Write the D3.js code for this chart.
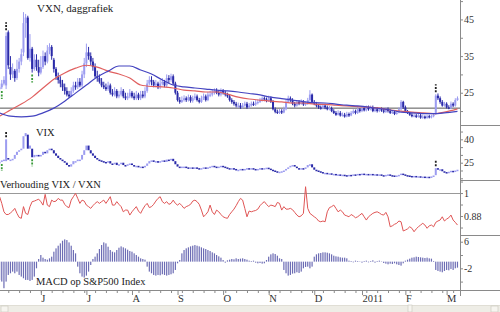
<!DOCTYPE html>
<html><head><meta charset="utf-8">
<script src="https://cdn.jsdelivr.net/npm/d3@7/dist/d3.min.js"></script>
<style>html,body{margin:0;padding:0;background:#fff}svg{display:block}</style>
</head><body>
<svg id="c" width="500" height="312"></svg>
<script>
// ---------- DATA (trading-day index 0..211) ----------
const vxnOpen=[26,26.5,27.5,27,41.5,32,30,31,29,31.5,
33.5,36,44,45.5,34.5,37,31.5,34,32,30.5,
32,35,33.5,36.5,37.5,34,31.5,29.5,28.5,27.5,
26.5,25.5,24.5,24,25.5,27,26.5,28,27,30,
33,36,35,33.5,32,29.5,29,28,27,26.5,
26,27,25,24.5,25.5,24,24.5,25.5,24,23.5,
24,25,24,23.5,24.5,23.5,24.5,24,25.5,27.5,
28.5,28,27,27.5,26.5,27.5,28,27,29,28.5,
29.5,27.5,25,23,22.5,23,23.5,23,23.8,22.8,
23.5,24,23,22.5,23.5,24,23,24.5,24.5,25,
25.5,25,24.5,25.5,25,24.5,24,23,22.5,22,
21.5,21.5,21,21.5,22,21,21.5,22,21.8,22.3,
22.5,23,23.5,23.2,22.8,23.5,22.5,20.5,19.8,19.5,
20,19.6,20.5,22.5,23.5,23,22,21.5,22.5,22,
22.5,21.8,22,23,24.5,22.5,22,21.5,21,20.8,
21.5,21,20.5,20.8,20,19.5,19,19.5,18.8,19,
18.5,19.2,18.8,19.5,20,19.5,20.5,20,20.8,20.2,
21,20.5,21,20,20.5,20,20.5,20.2,19.8,20.5,
20,19.5,19.8,19.2,19.6,20.5,22.5,21,20,19.5,
19,18.6,18.8,18.4,18.8,18.2,18.5,18.1,18.6,18.3,
18.6,19.2,24.2,23.5,22.5,21.5,22,21,20.8,22,21.5,23];
const vxnHigh=[27.5,28.5,29.5,41.5,42,35,33,31.5,34,34.5,
37,47,46.5,46,41,37.5,35.5,35.5,34,35,
36.5,36,38,38.5,38,34.5,32,30.5,29.5,28.5,
27.5,26.5,25.5,26.5,28,28,29,29,31,34.5,
38.4,37.5,36,34.5,33,31,30,29,28,27.5,
28,27.5,26,26.5,26,25.5,26.5,26,25,25,
26,25.5,25,25.5,25,25.5,25.5,26.5,28.5,29.5,
29.5,28.5,28.5,28,28.5,29,28.5,30,29.8,30.2,
30,28,25.5,23.8,24,24.3,24,24.5,24.3,24.2,
24.8,24.5,23.6,24.2,24.8,24.5,25.2,25.5,25.8,26.2,
26.2,25.7,26.2,26,25.6,25,24.5,23.5,23,22.5,
22.3,22.2,22.2,22.6,22.5,22.2,22.6,22.6,23,23.2,
23.6,24,24,23.7,24.2,24,23,21,20.4,20.6,
20.5,21.2,23.2,24.2,24,23.5,22.5,23,23,23.2,
23,22.6,23.6,25.7,24.8,23,22.5,22,21.5,22,
22,21.5,21.4,21.2,20.5,20,20.2,20,19.6,19.5,
19.8,19.6,20,20.5,20.4,21.2,20.8,21.4,21.2,21.5,
21.5,21.5,21.5,21,21,21,21,20.6,21,21,
20.5,20.3,20.2,20,21,23,22.8,21.5,20.3,19.8,
19.5,19.3,19.2,19.3,19.2,19,18.8,19,19,19,
19.5,24.6,24.8,24,23,22.5,22.4,21.6,22.6,22.4,23.5,24];
const vxnLow=[25.5,26,27,26,31.5,28.5,29,28,28.5,30.5,
32.5,35,40,34,33.5,30.5,31,31,29.5,30,
31.5,32.5,33,35.5,34,30.5,28.5,27.5,26.5,25.5,
24.5,24,23.6,23.8,25,25.8,26,26.5,26.5,29,
32,34,32.5,31,29,28,27.5,26.5,26,25.5,
25.5,24.5,24,24,23.5,23.5,24,23.5,23,23,
23.5,23.5,23,23,23,23,23.5,23.5,25,27,
27,26.5,26.5,26,26,27,26.5,26.5,27.5,28,
27,24.5,22.6,22,22.2,22.6,22.5,22.6,22.3,22.3,
23,22.6,22.1,22.2,23,22.6,22.7,23.8,24,24.5,
24.6,24,24,24.5,24,23.6,22.6,22,21.5,21,
20.8,20.6,20.7,21.2,20.6,20.7,21.2,21.4,21.4,21.8,
22.2,22.6,22.7,22.4,22.5,22.2,20.2,19.4,19.2,19.2,
19.2,19.4,20.2,22.2,22.5,21.6,21,21.2,21.6,21.7,
21.4,21.4,21.7,22.7,22.1,21.6,21,20.6,20.4,20.5,
20.5,20.2,20.2,19.7,19.2,18.7,18.8,18.5,18.5,18.2,
18.3,18.4,18.6,19.2,19.1,19.2,19.6,19.7,19.9,19.9,
20.1,20.2,19.7,19.7,19.6,19.7,19.8,19.4,19.5,19.6,
19.2,19.2,18.9,19,19.4,20.2,20.6,19.7,19.2,18.7,
18.3,18.3,18.1,18.2,17.9,17.9,17.8,17.9,18,18,
18.3,19,23,22,21.2,21.2,20.7,20.5,20.5,21.1,21.2,22.8];
const vxnClose=[26.5,27.5,28.5,40.5,32.5,30,31,29,31.5,33.5,
35.5,44,45.5,34.5,37,31.5,34,32,30.5,32,
35,33.5,36.5,37.5,35,31.5,29.5,28.5,27.5,26.5,
25.5,24.5,24,25.5,27,26.5,28,27,30,33,
36,35,33.5,32,29.5,29,28,27,26.5,26,
27,25,24.5,25.5,24,24.5,25.5,24,23.5,24,
25,24,23.5,24.5,23.5,24.5,24,25.5,27.5,28.5,
28,27,27.5,26.5,27.5,28,27,29,28.5,29.5,
27.5,25,23,22.5,23,23.5,23,23.8,22.8,23.5,
24,23,22.5,23.5,24,23,24.5,24.5,25,25.5,
25,24.5,25.5,25,24.5,24,23,22.5,22,21.5,
21.5,21,21.5,22,21,21.5,22,21.8,22.3,22.5,
23,23.5,23.2,22.8,23.5,22.5,20.5,19.8,19.5,20,
19.6,20.5,22.5,23.5,23,22,21.5,22.5,22,22.5,
21.8,22,23,24.5,22.5,22,21.5,21,20.8,21.5,
21,20.5,20.8,20,19.5,19,19.5,18.8,19,18.5,
19.2,18.8,19.5,20,19.5,20.5,20,20.8,20.2,21,
20.5,21,20,20.5,20,20.5,20.2,19.8,20.5,20,
19.5,19.8,19.2,19.6,20.5,22.5,21,20,19.5,19,
18.6,18.8,18.4,18.8,18.2,18.5,18.1,18.6,18.3,18.6,
19,24.2,23.5,22.5,21.5,22,21,20.8,22,21.5,23,23.5];

// moving averages (red = short, blue = long), sampled every 5 days
const maDays=[0,5,10,15,20,25,30,35,40,45,50,55,60,65,70,75,80,85,90,95,100,105,110,115,120,125,130,135,140,145,150,155,160,165,170,175,180,185,190,195,200,205,211];
const maRed=[18.6,20.3,21.9,23.8,26.3,28.7,30.4,31.7,32.5,32.0,30.9,30.1,29.0,27.1,26.7,26.6,26.3,25.7,25.5,25.2,25.2,24.6,23.8,23.3,23.0,22.7,22.5,22.2,22.2,21.9,21.8,21.6,21.4,21.2,21.1,20.8,20.3,20.0,19.7,19.5,19.3,19.7,20.6];
const maBlue=[19.5,18.6,18.4,18.6,19.5,20.8,22.7,24.9,27.1,29.3,30.9,32.3,32.3,31.2,30.1,28.5,27.1,26.6,26.3,26.0,25.7,25.5,25.2,24.8,24.4,23.8,23.4,23.0,22.6,22.3,22.2,21.9,21.6,21.4,21.1,20.7,20.3,19.7,19.5,19.3,19.3,19.5,19.9];
const vxnRefLevel=20.8;

const vixOpen=[25,25.5,26.5,26,28,27,27,27.5,30,32,
33,34,42,43,34,34,28.5,30,30,29,
30,32,31,33,34,33,31,29.5,28,27,
26,25,23.5,22.5,24,26,26,27,27,30,
33,36,33,31,29.5,28,27,26.5,26,25.5,
25,26,24.5,24,25,23.5,24,25,23.5,23,
24,24.5,23.5,22.5,23,22,22.5,22,23,24.5,
26,26.5,25.5,26,25,26,26.5,25.5,27,26.5,
27.5,26,24,22.5,22,22.5,22.5,22,21.5,22,
21.5,22,21.5,21,21.5,22,21.5,22,22.5,23,
22.5,22,22.5,23,22.5,22,21.5,21,21.5,21,
20.5,20.5,21,20.5,21,21.5,21,21.5,21,20.5,
21,21.5,21,21.5,21.8,21.2,20.5,20,19.5,19,
19.2,19.5,20,21,22,23,23.5,22.5,21.5,21,
21.5,21,22,23.5,24,22,20.5,20,19.5,19,
18.5,18.5,18,18.2,17.5,17.8,17.2,17.5,17,17.3,
17,16.8,17.2,17,17.5,17.2,17.8,17.5,18,17.6,
17.8,17.5,17.8,17.2,17.6,17.2,17.5,17,16.8,17.2,
17.5,17,16.8,16.5,16.8,17.2,18,17.5,17,16.8,
16.5,16.2,16.5,16,16.3,15.8,16.1,15.7,16,15.8,
16.2,17,21.5,20.5,20.8,19.5,19,18.5,19.2,19.8,19.5,20];
const vixClose=[25.5,26.5,27,40,27,27,27.5,30,32,33,
34,42,44,34,36,28.5,30,30,29,30,
32,31,33,34,33,31,29.5,28,27,26,
25,23.5,22.5,24,26,26,27,27,30,33,
36,33,31,29.5,28,27,26.5,26,25.5,25,
26,24.5,24,25,23.5,24,25,23.5,23,24,
24.5,23.5,22.5,23,22,22.5,22,23,24.5,26,
26.5,25.5,26,25,26,26.5,25.5,27,26.5,27.5,
26,24,22.5,22,22.5,22.5,22,21.5,22,21.5,
22,21.5,21,21.5,22,21.5,22,22.5,23,22.5,
22,22.5,23,22.5,22,21.5,21,21.5,21,20.5,
20.5,21,20.5,21,21.5,21,21.5,21,20.5,21,
21.5,21,21.5,21.8,21.2,20.5,20,19.5,19,19.2,
19.5,20,21,22,23,23.5,22.5,21.5,21,21.5,
21,22,23.5,24,22,20.5,20,19.5,19,18.5,
18.5,18,18.2,17.5,17.8,17.2,17.5,17,17.3,17,
16.8,17.2,17,17.5,17.2,17.8,17.5,18,17.6,17.8,
17.5,17.8,17.2,17.6,17.2,17.5,17,16.8,17.2,17.5,
17,16.8,16.5,16.8,17.2,18,17.5,17,16.8,16.5,
16.2,16.5,16,16.3,15.8,16.1,15.7,16,15.8,16.2,
16.8,21.5,20.5,20.8,19.5,19,18.5,19.2,19.8,19.5,20,20.5];

const ratioVixVxn=[.981,.946,.902,.888,.888,.896,.906,.920,.894,.873,
.868,.929,.894,.888,.929,.955,.958,.963,.968,.955,
.937,.993,.937,.929,.963,.955,.958,.972,.963,.963,
.941,.929,.924,.963,.981,.998,.972,.946,.963,.958,
.937,.929,.920,.934,.946,.955,.946,.955,.963,.946,
.963,.981,.937,.937,.955,.941,.929,.902,.911,.911,
.885,.902,.916,.929,.906,.894,.916,.934,.946,.924,
.929,.941,.958,.972,.981,.955,.946,.955,.941,.946,
.963,.946,.937,.946,.934,.920,.929,.934,.941,.958,
.963,.955,.941,.911,.876,.888,.902,.937,.902,.888,
.911,.902,.888,.876,.871,.868,.888,.902,.916,.934,
.955,.972,.963,.920,.876,.906,.902,.906,.909,.916,
.934,.946,.955,.941,.929,.937,.934,.929,.951,.946,
.911,.929,.916,.916,.920,.913,.899,.885,.876,.881,
.894,1.033,.920,.894,.885,.876,.868,.854,.850,.854,
.850,.902,.924,.929,.937,.920,.902,.911,.902,.885,
.881,.876,.888,.881,.871,.876,.885,.894,.876,.859,
.876,.885,.894,.899,.902,.896,.888,.885,.899,.876,
.824,.829,.837,.842,.854,.850,.802,.807,.813,.824,
.816,.798,.813,.824,.833,.842,.833,.816,.829,.833,
.824,.847,.854,.859,.876,.854,.864,.871,.885,.859,.847,.833];

const macdHist=[-5.5,-6,-8,-6,-4,-3.5,-3,-3.5,-3,-4,
-4.5,-5,-5.5,-5.5,-5.8,-5.5,-4.5,-2,0.8,2,
1.2,0.8,0.6,1,1.5,3,4,4.8,5.5,6.3,
6.7,6.5,5.8,4.8,3.5,2.5,-1.5,-3.5,-4.5,-4.8,
-4.2,-3,-1,0.8,1.5,2.5,3.8,5,5.8,5.5,
4.5,3.5,3,2.8,3.5,4.2,4.6,4.3,4,3.6,
3.2,3,2.5,2,1.5,1,0.8,0.6,-1.5,-3,
-3.5,-4,-4.2,-4,-4.1,-3.8,-4,-4.2,-4,-3.8,
-3.5,-2.5,-0.5,0.5,2.5,3.5,4,4.3,4.6,4.8,
5,4.8,4.6,4.3,4,3.8,3.5,3.2,2.8,2.5,
2,1.6,1.2,0.5,-0.3,0.4,0.6,0.8,0.7,1,
0.8,0.9,1,0.8,0.6,0.3,0.2,0.3,-0.3,-0.5,
-0.4,-0.6,-0.5,0.5,1.5,2.2,2.5,2.3,1.8,1,
0.8,-2.5,-3.5,-4.2,-4,-3.6,-3.5,-3.2,-3.4,-3,
-2,-1.6,-1.5,-2,-1.5,1.5,2.2,2.5,2.6,2.8,
2.8,2.7,2.5,2.2,1.8,1.6,1.5,1.3,1.2,1.2,
1,0.3,0.2,-0.2,0.3,0.2,0.1,-0.3,0.2,0.3,
-0.2,0.2,0.4,-0.3,0.2,0.3,0.1,-0.4,-0.6,-0.8,
-0.6,-0.7,-0.5,-0.8,-1,-1.2,-0.5,0.3,0.6,0.9,
1.2,1.3,1.5,1.4,1.3,1.2,1.1,1.2,1,0.9,
0.2,-2.5,-2.8,-3,-3.2,-2.8,-2.5,-2.6,-2.2,-2.5,-2,-1.8];

const sellSignalDays=[3,201];
const buySignalDays=[1,15];

const monthStartDays=[19,40,61,82,103,124,145,167,187,206];
const monthLabels=["J","J","A","S","O","N","D","2011","F","M"];

const vxnTicks=[20,25,30,35,40,45,50], vxnTickLabels=[45,35,25];
const vixTicks=[15,20,25,30,35,40,45], vixTickLabels=[40,25];
const ratioTicks=[1.06,1,0.94,0.88,0.82], ratioTickLabels=[1,0.88];
const macdTicks=[6,2,-2,-6], macdTickLabels=[6,-2];

const titles=["VXN, daggrafiek","VIX","Verhouding VIX / VXN","MACD op S&P500 Index"];

// ---------- CHART ----------
const FONT='"Liberation Serif","Times New Roman",serif';
const svg=d3.select('#c');
const PR=460;
const nDays=vxnClose.length;
const x=d3.scaleLinear().domain([0,nDays-1]).range([-0.4,-0.4+2.17*(nDays-1)]);
const yVxn=d3.scaleLinear().domain([16.2,50.3]).range([125,0]);
const yVix=d3.scaleLinear().domain([13.9,49.2]).range([180,125]);
const yRat=d3.scaleLinear().domain([0.781,1.068]).range([235,180]);
const yMacd=d3.scaleLinear().domain([-8.53,8.02]).range([290,235]);

svg.append('defs').append('clipPath').attr('id','plot')
  .append('rect').attr('x',0).attr('y',0).attr('width',PR).attr('height',290);
const plot=svg.append('g').attr('clip-path','url(#plot)');

const UP='#9c9cf0', DOWN='#2a2aa8';
const days=d3.range(nDays);

// reference lines
plot.append('line').attr('x1',0).attr('x2',PR).attr('y1',yVxn(vxnRefLevel)).attr('y2',yVxn(vxnRefLevel))
  .attr('stroke','#555').attr('stroke-width',1);
plot.append('line').attr('x1',0).attr('x2',PR).attr('y1',Math.round(yRat(1))+0.5).attr('y2',Math.round(yRat(1))+0.5)
  .attr('stroke','#999').attr('stroke-width',1);

// VXN candles
const vg=plot.append('g');
vg.selectAll('line.w').data(days).join('line').attr('class','w')
  .attr('x1',i=>x(i)).attr('x2',i=>x(i))
  .attr('y1',i=>yVxn(vxnHigh[i])).attr('y2',i=>yVxn(vxnLow[i]))
  .attr('stroke',i=>vxnClose[i]>=vxnOpen[i]?UP:DOWN).attr('stroke-width',1);
vg.selectAll('rect').data(days).join('rect')
  .attr('x',i=>x(i)-1).attr('width',2)
  .attr('y',i=>yVxn(Math.max(vxnOpen[i],vxnClose[i])))
  .attr('height',i=>Math.max(1.2,Math.abs(yVxn(vxnOpen[i])-yVxn(vxnClose[i]))))
  .attr('fill',i=>vxnClose[i]>=vxnOpen[i]?UP:DOWN);

// moving averages
const maLine=(vals)=>d3.line().x((d,k)=>x(maDays[k])).y(d=>yVxn(d)).curve(d3.curveMonotoneX)(vals);
plot.append('path').attr('d',maLine(maRed)).attr('fill','none').attr('stroke','#e06060').attr('stroke-width',1.2);
plot.append('path').attr('d',maLine(maBlue)).attr('fill','none').attr('stroke','#4444c0').attr('stroke-width',1.2);

// VIX candles
const xg=plot.append('g');
xg.selectAll('rect').data(days).join('rect')
  .attr('x',i=>x(i)-1).attr('width',2)
  .attr('y',i=>yVix(Math.max(vixOpen[i],vixClose[i])))
  .attr('height',i=>Math.max(1.5,Math.abs(yVix(vixOpen[i])-yVix(vixClose[i]))))
  .attr('fill',i=>vixClose[i]>=vixOpen[i]?UP:DOWN);

// signal markers
function marker(xp,y1,y2,col){
  plot.append('line').attr('x1',xp).attr('x2',xp).attr('y1',y1).attr('y2',y2)
    .attr('stroke',col).attr('stroke-width',1.8).attr('stroke-dasharray','2,1.3');
}
sellSignalDays.forEach(i=>{
  marker(x(i),yVxn(vxnHigh[i])-2,yVxn(vxnHigh[i])-10,'#222');
  const vt=yVix(Math.max(vixOpen[i],vixClose[i]));
  marker(x(i),vt-2,vt-8,'#222');
});
buySignalDays.forEach(i=>{
  marker(x(i),yVxn(vxnLow[i])+2,yVxn(vxnLow[i])+10,'#3a9a3a');
  const vb=yVix(Math.min(vixOpen[i],vixClose[i]));
  marker(x(i),vb+2,vb+9,'#3a9a3a');
});

// ratio line
plot.append('path').datum(ratioVixVxn)
  .attr('d',d3.line().x((d,i)=>x(i)).y(d=>yRat(d)))
  .attr('fill','none').attr('stroke','#e05555').attr('stroke-width',1);

// MACD histogram
plot.append('g').selectAll('rect').data(days).join('rect')
  .attr('x',i=>x(i)-0.6).attr('width',1.2)
  .attr('y',i=>Math.min(yMacd(0),yMacd(macdHist[i])))
  .attr('height',i=>Math.abs(yMacd(macdHist[i])-yMacd(0)))
  .attr('fill','#6c6cb4');

// ---------- AXES ----------
const AX='#8a8a8a';
function rightAxis(y,ticks,labels){
  const g=svg.append('g').attr('transform',`translate(${PR},0)`)
    .call(d3.axisRight(y).tickValues(ticks).tickSize(3).tickPadding(1)
      .tickFormat(d=>labels.includes(d)?String(d):''));
  g.select('.domain').remove();
  g.selectAll('line').attr('stroke',AX);
  g.selectAll('text').attr('font-family',FONT).attr('font-size',10).attr('fill','#333');
}
rightAxis(yVxn,vxnTicks,vxnTickLabels);
rightAxis(yVix,vixTicks,vixTickLabels);
rightAxis(yRat,ratioTicks,ratioTickLabels);
rightAxis(yMacd,macdTicks,macdTickLabels);

// frame lines
svg.append('line').attr('x1',PR+0.5).attr('x2',PR+0.5).attr('y1',0).attr('y2',296).attr('stroke',AX);
[125,180,235].forEach(v=>svg.append('line').attr('x1',PR).attr('x2',500).attr('y1',v+0.5).attr('y2',v+0.5).attr('stroke',AX));

// bottom axis
const bx=svg.append('g').attr('transform','translate(0,290)');
bx.call(d3.axisBottom(x).tickValues(d3.range(4,nDays,5)).tickSize(3).tickFormat(''));
bx.select('.domain').remove();
bx.selectAll('line').attr('stroke',AX);
const mx=svg.append('g').attr('transform','translate(0,290)');
mx.call(d3.axisBottom(x).tickValues(monthStartDays).tickSize(5).tickPadding(0).tickFormat((d,k)=>monthLabels[k]));
mx.select('.domain').remove();
mx.selectAll('line').attr('stroke',AX);
mx.selectAll('text').attr('text-anchor','start').attr('x',0).attr('font-family',FONT).attr('font-size',10.5).attr('fill','#333');
svg.append('line').attr('x1',0).attr('x2',500).attr('y1',290.5).attr('y2',290.5).attr('stroke',AX);

// titles
const tpos=[[37,12,11],[36,136,10.5],[0,188,10.5],[36,285,10.5]];
titles.forEach((t,k)=>svg.append('text').attr('x',tpos[k][0]).attr('y',tpos[k][1])
  .attr('font-family',FONT).attr('font-size',tpos[k][2]).attr('fill','#222').text(t));

// bottom scrollbar strip
svg.append('rect').attr('x',0).attr('y',305).attr('width',500).attr('height',7).attr('fill','#eeede6');
svg.append('line').attr('x1',0).attr('x2',500).attr('y1',305.5).attr('y2',305.5).attr('stroke','#e0ded5');
[[1,306],[491,306]].forEach(p=>svg.append('rect').attr('x',p[0]).attr('y',p[1]).attr('width',7).attr('height',6)
  .attr('fill','#f6f5f0').attr('stroke','#c8c6bc').attr('stroke-width',0.6));
svg.append('rect').attr('x',408).attr('y',305).attr('width',4).attr('height',7).attr('fill','#f6f5f0').attr('stroke','#c8c6bc').attr('stroke-width',0.6);
</script>
</body></html>
